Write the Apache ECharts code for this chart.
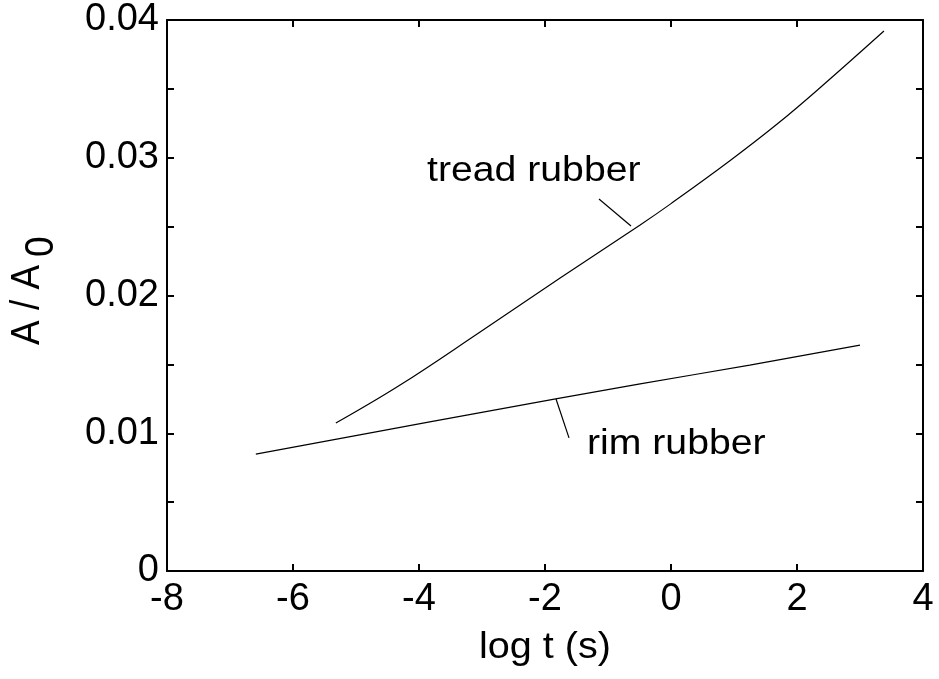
<!DOCTYPE html>
<html>
<head>
<meta charset="utf-8">
<script src="https://cdn.jsdelivr.net/npm/echarts@6/dist/echarts.min.js"></script>
<style>html,body{margin:0;padding:0;background:#fff;}#c{width:939px;height:679px;}</style>
</head>
<body>
<div id="c"></div>
<script>
// Data
var treadX = [-5.32, -4.30, -3.03, -1.76, -0.49, 0.00, 0.94, 1.70, 2.37, 3.38];
var treadY = [0.01074, 0.0135, 0.01735, 0.02127, 0.02512, 0.02667, 0.0298, 0.0325, 0.0351, 0.0392];
var rimX = [-6.59, -3.83, -1.83, -0.49, 1.25, 3.00];
var rimY = [0.00849, 0.01082, 0.01249, 0.01358, 0.01495, 0.0164];
// leader lines of the annotations (data units)
var treadLeaderX = [-1.143, -0.635];
var treadLeaderY = [0.02701, 0.02505];
var rimLeaderX = [-1.825, -1.619];
var rimLeaderY = [0.01249, 0.00966];
var xTicks = [-8, -6, -4, -2, 0, 2, 4];
var yTicks = [0, 0.01, 0.02, 0.03, 0.04];

function pairs(xs, ys) { return xs.map(function (x, i) { return [x, ys[i]]; }); }

var FONT = '"Liberation Sans", Arial, Helvetica, sans-serif';
var chart = echarts.init(document.getElementById('c'), null, {renderer: 'canvas'});

var lineCommon = {type: 'line', showSymbol: false, symbol: 'none', animation: false,
  lineStyle: {color: '#000', width: 1.2}, silent: true};

var axisLineStyle = {show: true, onZero: false, lineStyle: {color: '#000', width: 2}};
var tickStyle = {show: true, inside: true, length: 7, lineStyle: {color: '#000', width: 2}};

var option = {
  backgroundColor: '#fff',
  animation: false,
  grid: {left: 167, right: 16, top: 20, bottom: 108, containLabel: false},
  xAxis: [{
    type: 'value', min: xTicks[0], max: xTicks[xTicks.length - 1], interval: 2,
    position: 'bottom',
    axisLine: axisLineStyle, axisTick: tickStyle, splitLine: {show: false},
    axisLabel: {color: '#000', fontSize: 38, fontFamily: FONT, margin: 10,
      formatter: function (v) { return String(v); }}
  }, {
    type: 'value', min: xTicks[0], max: xTicks[xTicks.length - 1], interval: 2,
    position: 'top',
    axisLine: axisLineStyle, axisTick: tickStyle, splitLine: {show: false},
    axisLabel: {show: false}
  }],
  yAxis: [{
    type: 'value', min: 0, max: 0.04, interval: 0.005, position: 'left',
    axisLine: axisLineStyle, axisTick: tickStyle, splitLine: {show: false},
    axisLabel: {color: '#000', fontSize: 38, fontFamily: FONT, margin: 8,
      formatter: function (v) {
        var k = Math.round(v * 1000);
        if (k % 10 !== 0) return '';
        for (var i = 0; i < yTicks.length; i++) {
          if (Math.abs(yTicks[i] - v) < 1e-9) return String(yTicks[i]);
        }
        return '';
      }}
  }, {
    type: 'value', min: 0, max: 0.04, interval: 0.005, position: 'right',
    axisLine: axisLineStyle, axisTick: tickStyle, splitLine: {show: false},
    axisLabel: {show: false}
  }],
  series: [
    Object.assign({}, lineCommon, {name: 'tread rubber', data: pairs(treadX, treadY), smooth: 0.4}),
    Object.assign({}, lineCommon, {name: 'rim rubber', data: pairs(rimX, rimY), smooth: 0.4}),
    Object.assign({}, lineCommon, {name: 'tread leader', data: pairs(treadLeaderX, treadLeaderY)}),
    Object.assign({}, lineCommon, {name: 'rim leader', data: pairs(rimLeaderX, rimLeaderY)})
  ],
  graphic: [
    {type: 'text', x: 427, y: 171, scaleX: 1.12, style: {text: 'tread rubber', font: '35px ' + FONT, fill: '#000',
      textAlign: 'left', textVerticalAlign: 'middle'}},
    {type: 'text', x: 587, y: 444, scaleX: 1.12, style: {text: 'rim rubber', font: '35px ' + FONT, fill: '#000',
      textAlign: 'left', textVerticalAlign: 'middle'}},
    {type: 'text', x: 545, y: 648, scaleX: 1.1, style: {text: 'log t (s)', font: '36px ' + FONT, fill: '#000',
      textAlign: 'center', textVerticalAlign: 'middle'}},
    {type: 'group', x: 28, y: 345, rotation: Math.PI / 2, children: [
      {type: 'text', x: 0, y: 0, scaleY: 1.1, style: {text: 'A / A', font: '37px ' + FONT, fill: '#000',
        textAlign: 'left', textVerticalAlign: 'middle'}},
      {type: 'text', x: 88, y: 14, scaleY: 1.1, style: {text: '0', font: '37px ' + FONT, fill: '#000',
        textAlign: 'left', textVerticalAlign: 'middle'}}
    ]}
  ]
};
chart.setOption(option);
</script>
</body>
</html>
